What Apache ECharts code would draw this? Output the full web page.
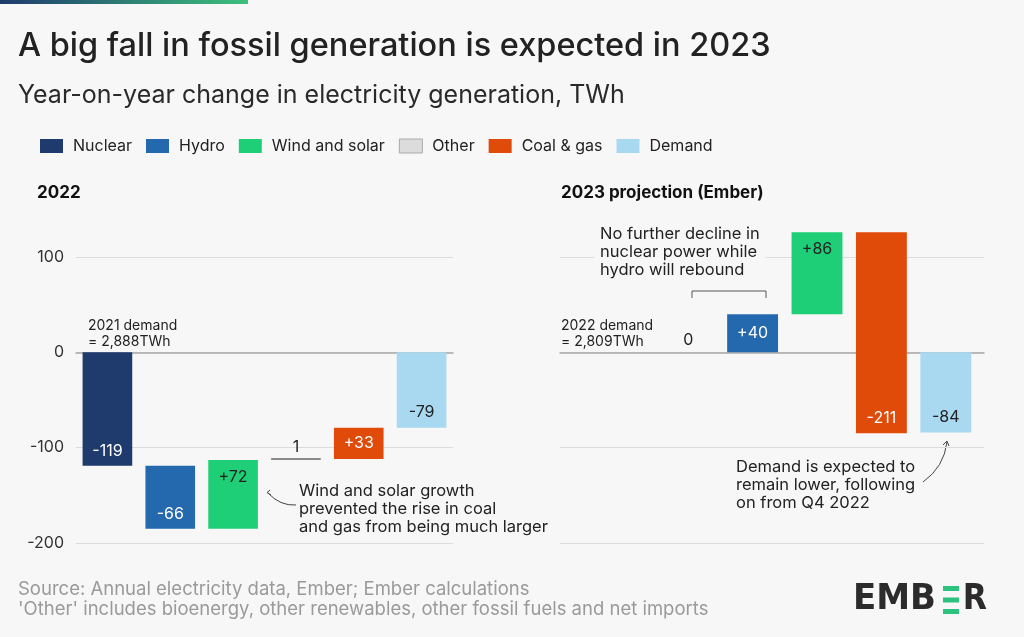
<!DOCTYPE html>
<html><head><meta charset="utf-8">
<script src="https://cdn.jsdelivr.net/npm/echarts@6/dist/echarts.min.js"></script>
<style>html,body{margin:0;padding:0;background:#f7f7f7}#c{width:1024px;height:637px}</style>
</head><body><div id="c"></div>
<script>
// ---- data ----
const legendNames = ['Nuclear', 'Hydro', 'Wind and solar', 'Other', 'Coal & gas', 'Demand'];
const categories2022 = ['Nuclear', 'Hydro', 'Wind and solar', 'Other', 'Coal & gas', 'Demand'];
const changes2022 = [-119, -66, 72, 1, 33, -79];
const labels2022 = ['-119', '-66', '+72', '1', '+33', '-79'];
const categories2023 = ['Nuclear', 'Hydro', 'Wind and solar', 'Coal & gas', 'Demand'];
const changes2023 = [0, 40, 86, -211, -84];
const labels2023 = ['0', '+40', '+86', '-211', '-84'];
const yTickValues = [-200, -100, 0, 100];

// ---- styles ----
const FONT = 'Inter';
const colorMap = {
  'Nuclear': '#1f3a6d', 'Hydro': '#2468ad', 'Wind and solar': '#1fcf77',
  'Other': '#dcdcdc', 'Coal & gas': '#e04b0a', 'Demand': '#a8d9f1'
};
const lightText = {'Nuclear': '#fff', 'Hydro': '#fff', 'Coal & gas': '#fff'};
const place2022 = ['bottom', 'bottom', 'top', 'above', 'middle', 'bottom'];
const place2023 = ['above', 'middle', 'top', 'bottom', 'bottom'];

function waterfall(cats, changes) {
  let cum = 0;
  return cats.map((c, i) => {
    let s, e;
    if (c === 'Demand') { s = 0; e = changes[i]; }
    else { s = cum; e = cum + changes[i]; cum = e; }
    return [i, s, e];
  });
}
const wf2022 = waterfall(categories2022, changes2022);
const wf2023 = waterfall(categories2023, changes2023);

function makeRender(cats, places, labels) {
  return function (params, api) {
    const i = api.value(0);
    const s = api.value(1), e = api.value(2);
    const top = api.coord([i, Math.max(s, e)]);
    const bot = api.coord([i, Math.min(s, e)]);
    const w = api.size([1, 0])[0] * 0.79;
    const cat = cats[i];
    const x = top[0] - w / 2;
    const h = bot[1] - top[1];
    const children = [];
    if (h > 0.01) {
      if (h < 3) {
        children.push({type: 'rect', shape: {x: x, y: top[1] - 1, width: w, height: 2}, style: {fill: '#8a8a8a'}});
      } else {
        children.push({type: 'rect', shape: {x: x, y: top[1], width: w, height: h}, style: {fill: colorMap[cat]}});
      }
    }
    const p = places[i];
    let ly;
    if (p === 'bottom') ly = bot[1] - 15;
    else if (p === 'top') ly = top[1] + 17;
    else if (p === 'middle') ly = (top[1] + bot[1]) / 2;
    else ly = top[1] - 12;
    const inside = p !== 'above';
    children.push({type: 'text', style: {
      text: labels[i], x: top[0], y: ly, align: 'center', verticalAlign: 'middle',
      fill: inside && lightText[cat] ? '#fff' : '#222', font: '16px ' + FONT
    }});
    return {type: 'group', children: children};
  };
}

const chart = echarts.init(document.getElementById('c'));
const yBase = {type: 'value', min: -200, max: 100, interval: 100};
const txt = (t, x, y, extra) => ({type: 'text', x: x, y: y, style: Object.assign({
  text: t, font: '16.5px ' + FONT, fill: '#222', lineHeight: 18}, extra || {})});

const option = {
  backgroundColor: '#f7f7f7',
  animation: false,
  textStyle: {fontFamily: FONT},
  title: [
    {text: 'A big fall in fossil generation is expected in 2023', left: 18, top: 30, padding: 0,
      textStyle: {fontSize: 32.5, fontWeight: 500, color: '#222', fontFamily: FONT}},
    {text: 'Year-on-year change in electricity generation, TWh', left: 18, top: 83, padding: 0,
      textStyle: {fontSize: 25, fontWeight: 'normal', color: '#2a2a2a', fontFamily: FONT}},
    {text: '2022', left: 37, top: 184, padding: 0, textStyle: {fontSize: 17, fontWeight: 'bold', color: '#111', fontFamily: FONT}},
    {text: '2023 projection (Ember)', left: 561, top: 184, padding: 0, textStyle: {fontSize: 17, fontWeight: 'bold', color: '#111', fontFamily: FONT}}
  ],
  legend: {
    data: legendNames.map(n => ({name: n, itemStyle: n === 'Other' ? {borderColor: '#aaa', borderWidth: 1} : {}})),
    left: 40, top: 138, padding: 0, itemWidth: 23, itemHeight: 14, itemGap: 14, icon: 'rect',
    textStyle: {fontSize: 16, color: '#222', fontFamily: FONT, padding: [0, 0, 0, 5]}, selectedMode: false
  },
  grid: [
    {left: 76, top: 257, width: 377, height: 286},
    {left: 560, top: 257, width: 424, height: 286},
    {left: 656, top: 257, width: 322, height: 286}
  ],
  xAxis: [
    {type: 'category', gridIndex: 0, data: categories2022, axisLabel: {show: false}, axisTick: {show: false},
      axisLine: {onZero: true, lineStyle: {color: '#a9a9a9', width: 1.5}}},
    {type: 'category', gridIndex: 1, data: [''], axisLabel: {show: false}, axisTick: {show: false},
      axisLine: {onZero: true, lineStyle: {color: '#a9a9a9', width: 1.5}}},
    {type: 'category', gridIndex: 2, data: categories2023, show: false}
  ],
  yAxis: [
    Object.assign({gridIndex: 0, axisLine: {show: false}, axisTick: {show: false},
      axisLabel: {margin: 12, fontSize: 16, color: '#333', fontFamily: FONT,
        formatter: v => yTickValues.includes(v) ? String(v) : ''},
      splitLine: {lineStyle: {color: '#dcdcdc'}}}, yBase),
    Object.assign({gridIndex: 1, axisLine: {show: false}, axisTick: {show: false}, axisLabel: {show: false},
      splitLine: {lineStyle: {color: '#dcdcdc'}}}, yBase),
    Object.assign({gridIndex: 2, show: false, splitLine: {show: false}}, yBase)
  ],
  series: [
    ...legendNames.map(n => ({name: n, type: 'bar', xAxisIndex: 0, yAxisIndex: 0, data: [], itemStyle: {color: colorMap[n]}})),
    {type: 'custom', name: 'y2022', xAxisIndex: 0, yAxisIndex: 0, clip: false, data: wf2022,
      encode: {x: 0, y: [1, 2]}, renderItem: makeRender(categories2022, place2022, labels2022), z: 5},
    {type: 'custom', name: 'y2023', xAxisIndex: 2, yAxisIndex: 2, clip: false, data: wf2023,
      encode: {x: 0, y: [1, 2]}, renderItem: makeRender(categories2023, place2023, labels2023), z: 5}
  ],
  graphic: [
    {type: 'rect', left: 0, top: 0, shape: {width: 248, height: 4},
      style: {fill: new echarts.graphic.LinearGradient(0, 0, 1, 0, [{offset: 0, color: '#1f3a6d'}, {offset: 1, color: '#3cc17c'}])}},
    txt('2021 demand\n= 2,888TWh', 88, 318, {font: '14px ' + FONT, lineHeight: 16}),
    txt('2022 demand\n= 2,809TWh', 561, 318, {font: '14px ' + FONT, lineHeight: 16}),
    {type: 'text', x: 594, y: 225, z: 10, style: {text: 'No further decline in\nnuclear power while\nhydro will rebound',
      font: '16.5px ' + FONT, fill: '#222', lineHeight: 18, backgroundColor: '#f7f7f7', padding: [0, 6, 0, 6]}},
    {type: 'polyline', z: 10, shape: {points: [[692, 298], [692, 291], [766, 291], [766, 298]]}, style: {stroke: '#555', lineWidth: 1, fill: null}},
    txt('Wind and solar growth\nprevented the rise in coal\nand gas from being much larger', 299, 482),
    txt('Demand is expected to\nremain lower, following\non from Q4 2022', 736, 458),
    {type: 'bezierCurve', shape: {x1: 296, y1: 505, x2: 268, y2: 493, cpx1: 280, cpy1: 506}, style: {stroke: '#444', lineWidth: 1, fill: null}},
    {type: 'polyline', shape: {points: [[270, 490], [267, 492.5], [271, 495]]}, style: {stroke: '#444', lineWidth: 1, fill: null}},
    {type: 'bezierCurve', shape: {x1: 923, y1: 482, x2: 947, y2: 442, cpx1: 944, cpy1: 467}, style: {stroke: '#444', lineWidth: 1, fill: null}},
    {type: 'polyline', shape: {points: [[943, 445], [947, 441], [949, 446]]}, style: {stroke: '#444', lineWidth: 1, fill: null}},
    txt('Source: Annual electricity data, Ember; Ember calculations', 18, 579, {font: '18.5px ' + FONT, fill: '#9a9a9a', lineHeight: 20}),
    txt("'Other' includes bioenergy, other renewables, other fossil fuels and net imports", 18, 599, {font: '18.5px ' + FONT, fill: '#9a9a9a', lineHeight: 20}),
    {type: 'text', x: 853, y: 600, scaleX: 1.08, style: {text: 'EMB', font: 'bold 35px "DejaVu Sans Condensed"', fill: '#2b2b2b', verticalAlign: 'middle'}},
    {type: 'text', x: 987, y: 600, style: {text: 'R', font: 'bold 35px "DejaVu Sans Condensed"', fill: '#2b2b2b', verticalAlign: 'middle', align: 'right'}},
    {type: 'rect', shape: {x: 943, y: 586, width: 16, height: 5}, style: {fill: '#2bc37e'}},
    {type: 'rect', shape: {x: 943, y: 597.5, width: 16, height: 5}, style: {fill: '#2bc37e'}},
    {type: 'rect', shape: {x: 943, y: 609, width: 16, height: 5}, style: {fill: '#2bc37e'}}
  ]
};
chart.setOption(option);
</script></body></html>
